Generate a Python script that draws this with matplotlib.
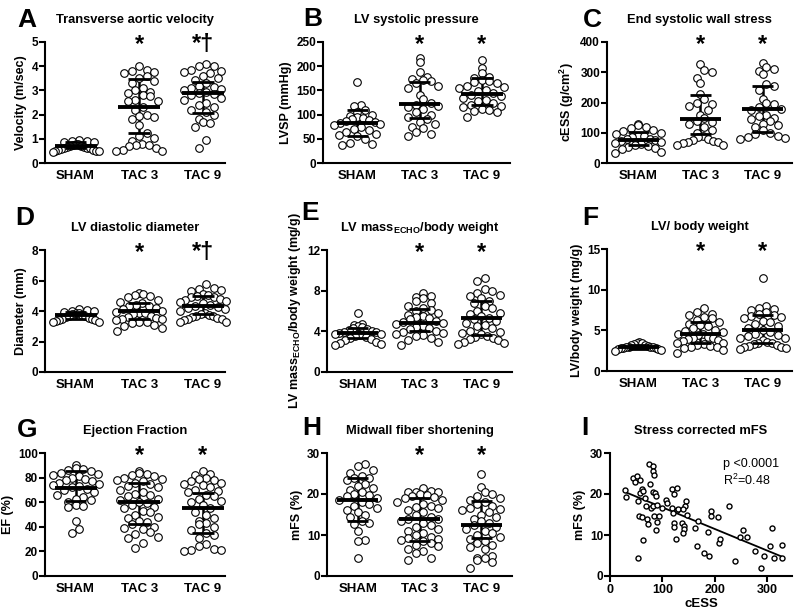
import numpy as np
import matplotlib
matplotlib.use("Agg")
import matplotlib.pyplot as plt

plt.rcParams['font.family'] = ['Liberation Sans', 'DejaVu Sans']
plt.rcParams['mathtext.fontset'] = 'custom'
plt.rcParams['mathtext.rm'] = 'Liberation Sans'
plt.rcParams['mathtext.bf'] = 'Liberation Sans:bold'
plt.rcParams['mathtext.it'] = 'Liberation Sans:italic'

groups = ['SHAM', 'TAC 3', 'TAC 9']

# A - transverse aortic velocity (m/sec)
vel_sham = [0.95, 0.92, 0.9, 0.88, 0.85, 0.8, 0.78, 0.75, 0.72, 0.7, 0.68, 0.65,
            0.62, 0.6, 0.6, 0.58, 0.55, 0.55, 0.5, 0.5, 0.48, 0.45]
vel_tac3 = [4.0, 3.85, 3.8, 3.75, 3.7, 3.6, 3.5, 3.4, 3.3, 3.1, 3.0, 2.95, 2.9,
            2.8, 2.75, 2.6, 2.55, 2.55, 2.3, 2.2, 2.0, 1.95, 1.9, 1.8, 1.55, 1.25,
            1.1, 1.05, 0.9, 0.8, 0.75, 0.75, 0.7, 0.6, 0.55, 0.5, 0.5]
vel_tac9 = [4.1, 4.0, 4.0, 3.85, 3.8, 3.75, 3.7, 3.6, 3.5, 3.45, 3.3, 3.2, 3.15,
            3.1, 3.05, 3.0, 2.95, 2.9, 2.85, 2.8, 2.7, 2.6, 2.5, 2.4, 2.3, 2.2,
            2.1, 2.0, 1.8, 1.7, 1.65, 1.5, 0.95, 0.6]
vel_med = [0.72, 2.33, 2.88]
vel_q1 = [0.6, 1.23, 2.05]
vel_q3 = [0.85, 3.47, 3.35]

# B - LV systolic pressure (mmHg)
lvsp_sham = [167, 120, 117, 110, 105, 100, 97, 95, 93, 90, 88, 87, 85, 82, 80, 78,
             75, 70, 68, 65, 60, 58, 55, 50, 42, 40, 37]
lvsp_tac3 = [217, 208, 188, 177, 173, 172, 170, 165, 160, 155, 140, 132, 125, 120,
             118, 115, 112, 105, 100, 95, 90, 85, 80, 75, 72, 65, 60, 55]
lvsp_tac9 = [213, 197, 185, 178, 175, 172, 170, 168, 165, 160, 158, 155, 150, 148,
             145, 140, 138, 135, 130, 128, 125, 120, 118, 115, 112, 110, 108, 105, 95]
lvsp_med = [82, 121, 142]
lvsp_q1 = [55, 92, 120]
lvsp_q3 = [110, 168, 175]

# C - end systolic wall stress (g/cm2)
cess_sham = [128, 125, 120, 115, 110, 105, 100, 95, 90, 88, 85, 80, 78, 75, 72, 70,
             65, 62, 58, 55, 52, 50, 45, 35, 32]
cess_tac3 = [328, 308, 300, 280, 265, 228, 210, 200, 195, 190, 175, 160, 150, 140,
             135, 128, 120, 110, 100, 90, 85, 80, 75, 72, 70, 68, 65, 60, 60]
cess_tac9 = [332, 318, 312, 305, 295, 262, 255, 240, 210, 200, 195, 185, 180, 175,
             160, 155, 150, 145, 140, 130, 125, 120, 110, 100, 95, 90, 85, 82, 80]
cess_med = [77, 146, 179]
cess_q1 = [58, 95, 101]
cess_q3 = [101, 225, 254]

# D - LV diastolic diameter (mm)
diam_sham = [4.1, 4.05, 4.0, 4.0, 3.95, 3.9, 3.85, 3.8, 3.75, 3.7, 3.65, 3.6, 3.55,
             3.5, 3.45, 3.4, 3.4, 3.35, 3.3, 3.3]
diam_tac3 = [5.2, 5.1, 5.05, 5.0, 4.95, 4.7, 4.6, 4.5, 4.4, 4.35, 4.3, 4.2, 4.1, 4.0,
             3.95, 3.9, 3.85, 3.8, 3.7, 3.6, 3.55, 3.5, 3.45, 3.4, 3.3, 3.25, 3.2,
             3.1, 3.0, 2.9, 2.7]
diam_tac9 = [5.75, 5.5, 5.45, 5.35, 5.3, 5.1, 5.05, 5.0, 4.95, 4.9, 4.8, 4.7, 4.65,
             4.6, 4.5, 4.4, 4.3, 4.25, 4.2, 4.1, 4.0, 3.9, 3.8, 3.75, 3.7, 3.65, 3.6,
             3.55, 3.5, 3.45, 3.4, 3.3, 3.3]
diam_med = [3.73, 3.99, 4.34]
diam_q1 = [3.45, 3.5, 3.8]
diam_q3 = [3.95, 4.5, 5.0]

# E - LV mass(echo)/body weight (mg/g)
mass_sham = [5.85, 4.7, 4.6, 4.5, 4.4, 4.3, 4.2, 4.1, 4.0, 3.95, 3.9, 3.8, 3.75, 3.7,
             3.6, 3.5, 3.4, 3.3, 3.2, 3.1, 3.0, 2.9, 2.8, 2.7]
mass_tac3 = [7.8, 7.5, 7.4, 7.3, 7.0, 6.8, 6.5, 6.3, 6.1, 6.0, 5.8, 5.6, 5.5, 5.4,
             5.3, 5.2, 5.0, 4.9, 4.8, 4.7, 4.5, 4.4, 4.3, 4.2, 4.0, 3.9, 3.8, 3.7,
             3.6, 3.5, 3.3, 3.1, 3.0, 2.7]
mass_tac9 = [9.2, 9.0, 8.2, 8.0, 7.8, 7.6, 7.5, 7.3, 7.0, 6.8, 6.5, 6.3, 6.0, 5.8,
             5.7, 5.5, 5.3, 5.2, 5.0, 4.8, 4.6, 4.5, 4.3, 4.0, 3.9, 3.8, 3.7, 3.5,
             3.4, 3.3, 3.2, 3.1, 3.0, 2.9, 2.8]
mass_med = [3.85, 4.84, 5.33]
mass_q1 = [3.3, 4.0, 3.6]
mass_q3 = [4.3, 6.15, 7.0]

# F - LV/body weight (mg/g)
lvbw_sham = [3.6, 3.5, 3.4, 3.3, 3.2, 3.15, 3.1, 3.0, 3.0, 2.95, 2.9, 2.85, 2.8, 2.8,
             2.75, 2.7, 2.6, 2.5]
lvbw_tac3 = [7.7, 7.3, 7.0, 6.9, 6.7, 6.5, 6.3, 6.0, 5.8, 5.6, 5.5, 5.3, 5.0, 4.9,
             4.8, 4.6, 4.5, 4.4, 4.2, 4.1, 4.0, 3.9, 3.8, 3.7, 3.5, 3.4, 3.3, 3.2,
             3.1, 3.0, 2.9, 2.8, 2.6, 2.2]
lvbw_tac9 = [11.4, 8.0, 7.8, 7.6, 7.5, 7.3, 7.0, 6.9, 6.8, 6.7, 6.5, 6.2, 6.0, 5.8,
             5.5, 5.3, 5.0, 4.8, 4.6, 4.4, 4.3, 4.1, 4.0, 3.8, 3.6, 3.5, 3.4, 3.3,
             3.2, 3.1, 3.0, 2.9, 2.8, 2.7]
lvbw_med = [2.94, 4.5, 5.06]
lvbw_q1 = [2.75, 3.4, 3.5]
lvbw_q3 = [3.2, 6.0, 6.9]

# G - ejection fraction (%)
ef_sham = [90, 88, 87, 86, 85, 84, 83, 82, 81, 80, 79, 78, 77, 76, 75, 74, 73, 72,
           71, 70, 68, 66, 64, 63, 62, 60, 58, 57, 56, 45, 38, 35]
ef_tac3 = [85, 84, 83, 82, 81, 80, 79, 78, 77, 76, 75, 73, 72, 70, 68, 67, 66, 65,
           63, 62, 60, 59, 58, 56, 55, 53, 52, 50, 48, 47, 45, 44, 42, 40, 39, 38,
           36, 34, 32, 31, 27, 23]
ef_tac9 = [85, 83, 82, 80, 79, 78, 77, 76, 75, 74, 72, 70, 69, 68, 66, 65, 63, 61,
           60, 58, 55, 52, 50, 47, 45, 43, 42, 40, 37, 35, 33, 31, 26, 24, 22, 21,
           21, 20]
ef_med = [71.4, 60, 55.6]
ef_q1 = [61.3, 42, 34.6]
ef_q3 = [85, 76, 67.3]

# H - midwall fiber shortening (%)
mfs_sham = [27.3, 26.8, 25.8, 25.2, 24.5, 24.0, 23.8, 23.5, 22.5, 22.0, 21.5, 21.0,
            20.5, 20.0, 19.8, 19.5, 19.0, 18.5, 18.0, 17.5, 17.0, 16.5, 16.0, 15.5,
            15.0, 14.5, 13.5, 13.0, 12.8, 11.0, 8.8, 8.6, 4.3]
mfs_tac3 = [21.5, 20.8, 20.6, 20.5, 20.4, 20.0, 19.8, 19.5, 19.2, 19.0, 18.5, 18.0,
            17.5, 17.0, 16.8, 16.5, 16.0, 15.5, 15.0, 14.5, 14.0, 13.8, 13.5, 13.0,
            12.5, 12.0, 11.5, 11.0, 10.5, 10.0, 9.5, 9.2, 9.0, 8.8, 8.5, 8.0, 7.5,
            7.3, 6.5, 6.0, 5.5, 4.5, 4.0]
mfs_tac9 = [24.8, 21.8, 20.5, 20.0, 19.5, 19.0, 18.5, 18.0, 17.5, 17.0, 16.5, 16.3,
            16.0, 15.5, 15.0, 14.5, 14.0, 13.5, 13.0, 12.5, 12.0, 11.5, 11.0, 10.5,
            10.0, 9.5, 9.0, 8.5, 8.0, 7.5, 7.0, 6.5, 5.0, 4.5, 4.3, 4.0, 3.5, 2.0]
mfs_med = [18.6, 13.8, 12.4]
mfs_q1 = [13.4, 8.5, 9.2]
mfs_q3 = [23.9, 19.0, 18.2]

# I - stress corrected mFS (cESS vs mFS)
corr_cess = [28.7, 29.9, 44.6, 50.9, 47.8, 57.4, 60.5, 57.4, 63.7, 54.1, 66.9, 55.4,
             60.5, 70.1, 72.0, 63.7, 54.1, 69.0, 75.2, 81.6, 82.9, 84.1, 76.5, 82.9,
             86.0, 77.8, 81.6, 88.0, 89.2, 84.1, 94.3, 90.5, 88.0, 98.8, 107.0, 108.3,
             118.0, 122.3, 127.5, 118.0, 120.0, 127.5, 121.6, 122.9, 126.7, 129.2,
             137.7, 140.9, 140.9, 139.6, 145.9, 144.0, 147.1, 139.6, 162.5, 167.6,
             166.3, 179.0, 188.0, 190.0, 193.1, 193.1, 205.9, 209.0, 210.3, 227.0,
             239.0, 248.5, 254.8, 262.4, 277.2, 288.7, 295.0, 305.9, 309.0, 314.2,
             328.2, 329.4]
corr_mfs = [20.9, 19.3, 23.8, 24.5, 22.9, 23.5, 21.1, 20.3, 20.7, 18.3, 19.1, 14.7,
            14.3, 13.8, 12.7, 8.7, 4.5, 17.0, 27.2, 26.8, 25.5, 24.7, 22.5, 20.6,
            20.3, 16.6, 17.0, 19.5, 17.2, 14.7, 14.6, 13.1, 11.1, 16.6, 18.5, 17.8,
            21.1, 19.9, 21.5, 16.6, 15.3, 16.1, 13.0, 12.0, 9.0, 16.4, 13.0, 12.1,
            11.5, 10.5, 18.3, 17.0, 15.0, 16.4, 11.6, 13.5, 7.2, 5.5, 10.7, 4.9,
            15.9, 14.7, 14.3, 8.1, 9.0, 17.0, 3.6, 9.5, 11.1, 9.5, 6.2, 2.0, 5.0,
            7.4, 11.6, 4.5, 7.6, 4.3]

W, H = 800, 614
fig = plt.figure(figsize=(8, 6.14), dpi=100)


def px_axes(l, t, r, b):
    return fig.add_axes([l / W, 1 - b / H, (r - l) / W, (b - t) / H])


def style(ax, ymax, ystep):
    for s in ['top', 'right']:
        ax.spines[s].set_visible(False)
    for s in ['left', 'bottom']:
        ax.spines[s].set_linewidth(1.5)
    ax.set_ylim(0, ymax)
    ax.set_yticks(np.arange(0, ymax + ystep / 2, ystep))
    ax.tick_params(axis='y', direction='out', length=4, width=1.5, labelsize=8.5, pad=1)
    for lab in ax.get_yticklabels():
        lab.set_fontweight('bold')


def scatter_x(ax, xc, ys, row_h=9.5, step=7.5, half_w=23.0):
    # Prism-like scatter: bin points into rows, spread each row horizontally
    tr = ax.transData
    pts = tr.transform(np.column_stack([np.full(len(ys), xc), ys]))
    py = pts[:, 1]
    px0 = pts[0, 0]
    off = np.zeros(len(ys))
    rows = np.floor((py - py.min()) / row_h).astype(int)
    for r in np.unique(rows):
        idx = np.where(rows == r)[0]
        idx = idx[np.argsort(py[idx])]
        n = len(idx)
        if n == 1:
            continue
        sp = min(step, 2 * half_w / (n - 1))
        slots = (np.arange(n) - (n - 1) / 2) * sp
        # shift alternate rows by half a slot so circles interleave
        if r % 2 and n * sp + sp / 2 < 2 * half_w:
            slots = slots + sp / 2
        order = []
        lo, hi = 0, n - 1
        while lo <= hi:
            order.append(lo)
            if hi != lo:
                order.append(hi)
            lo += 1
            hi -= 1
        for k, j in zip(order, idx):
            off[j] = slots[k]
    back = tr.inverted().transform(np.column_stack([px0 + off, py]))
    return back[:, 0]


def dot_panel(box, xlim, data, med, q1, q3, ymax, ystep, title, ylabel, stars):
    ax = px_axes(*box)
    ax.set_xlim(*xlim)
    style(ax, ymax, ystep)
    for i, vals in enumerate(data):
        xs = scatter_x(ax, i, vals)
        ax.scatter(xs, vals, s=30, facecolor='white', edgecolor='black',
                   linewidth=0.8, zorder=3, clip_on=False)
        ax.vlines(i, q1[i], q3[i], color='black', lw=1.8, zorder=2)
        ax.hlines([q1[i], q3[i]], i - 0.17, i + 0.17, color='black', lw=2, zorder=4)
        ax.hlines(med[i], i - 0.33, i + 0.33, color='black', lw=2.8, zorder=5)
    ax.set_xticks(range(len(groups)))
    ax.set_xticklabels(groups, fontsize=9.5, fontweight='bold')
    ax.tick_params(axis='x', length=0, pad=5)
    ax.set_ylabel(ylabel, fontsize=9, fontweight='bold', labelpad=3)
    ax.text(0.5, 1 + 22 / (box[3] - box[1]), title, transform=ax.transAxes,
            ha='center', va='center', fontsize=9.3, fontweight='bold')
    for i, st in enumerate(stars):
        if st:
            ax.text(i, ymax * 0.98, st, ha='center', va='center', fontsize=17,
                    fontweight='bold', clip_on=False)
    return ax


col1 = (-0.48, 2.35)
col2 = (-0.5, 2.5)
col3 = (-0.5, 2.47)

dot_panel((45, 42, 225, 163), col1, [vel_sham, vel_tac3, vel_tac9], vel_med, vel_q1, vel_q3,
          5, 1, 'Transverse aortic velocity', 'Velocity (m/sec)', ['', '*', '*†'])
dot_panel((323, 42, 510, 163), (-0.55, 2.45), [lvsp_sham, lvsp_tac3, lvsp_tac9], lvsp_med,
          lvsp_q1, lvsp_q3, 250, 50, 'LV systolic pressure', 'LVSP (mmHg)', ['', '*', '*'])
dot_panel((607, 42, 792, 163), col3, [cess_sham, cess_tac3, cess_tac9], cess_med, cess_q1,
          cess_q3, 400, 100, 'End systolic wall stress', r'cESS (g/cm$^{\mathbf{2}}$)',
          ['', '*', '*'])
dot_panel((45, 250, 225, 372), col1, [diam_sham, diam_tac3, diam_tac9], diam_med, diam_q1,
          diam_q3, 8, 2, 'LV diastolic diameter', 'Diameter (mm)', ['', '*', '*†'])
dot_panel((327, 250, 512, 372), col2, [mass_sham, mass_tac3, mass_tac9], mass_med, mass_q1,
          mass_q3, 12, 4, r'LV mass$_{\mathbf{ECHO}}$/body weight',
          r'LV mass$_{\mathbf{ECHO}}$/body weight (mg/g)', ['', '*', '*'])
dot_panel((607, 249, 792, 371), col3, [lvbw_sham, lvbw_tac3, lvbw_tac9], lvbw_med, lvbw_q1,
          lvbw_q3, 15, 5, 'LV/ body weight', 'LV/body weight (mg/g)', ['', '*', '*'])
dot_panel((45, 453, 225, 576), col1, [ef_sham, ef_tac3, ef_tac9], ef_med, ef_q1, ef_q3,
          100, 20, 'Ejection Fraction', 'EF (%)', ['', '*', '*'])
dot_panel((327, 453, 512, 576), col2, [mfs_sham, mfs_tac3, mfs_tac9], mfs_med, mfs_q1,
          mfs_q3, 30, 10, 'Midwall fiber shortening', 'mFS (%)', ['', '*', '*'])

# panel I: scatter with linear fit
axi = px_axes(610, 453, 792, 576)
style(axi, 30, 10)
axi.set_xlim(0, 348)
axi.set_xticks([0, 100, 200, 300])
axi.tick_params(axis='x', direction='out', length=4, width=1.5, labelsize=9, pad=2)
for lab in axi.get_xticklabels():
    lab.set_fontweight('bold')
axi.scatter(corr_cess, corr_mfs, s=13, facecolor='white', edgecolor='black',
            linewidth=1.0, zorder=3)
slope, icpt = np.polyfit(corr_cess, corr_mfs, 1)
xfit = np.array([min(corr_cess), max(corr_cess)])
axi.plot(xfit, slope * xfit + icpt, color='black', lw=1.3, zorder=2)
axi.text(216, 27.2, 'p <0.0001', fontsize=9, va='center')
axi.text(216, 23.3, r'R$^2$=0.48', fontsize=9, va='center')
axi.set_xlabel('cESS', fontsize=9.5, fontweight='bold', labelpad=1)
axi.set_ylabel('mFS (%)', fontsize=9, fontweight='bold', labelpad=3)
axi.text(0.5, 1 + 22 / 123, 'Stress corrected mFS', transform=axi.transAxes,
         ha='center', va='center', fontsize=9.3, fontweight='bold')

# panel letters
letters = ['A', 'B', 'C', 'D', 'E', 'F', 'G', 'H', 'I']
letter_px = [(27, 20), (313, 19), (592, 20), (25, 218), (310, 213), (590, 218),
             (27, 430), (312, 428), (585, 428)]
for lt, (x, y) in zip(letters, letter_px):
    fig.text(x / W, 1 - y / H, lt, fontsize=19, fontweight='bold', ha='center', va='center')

fig.savefig('out.png', dpi=100)
